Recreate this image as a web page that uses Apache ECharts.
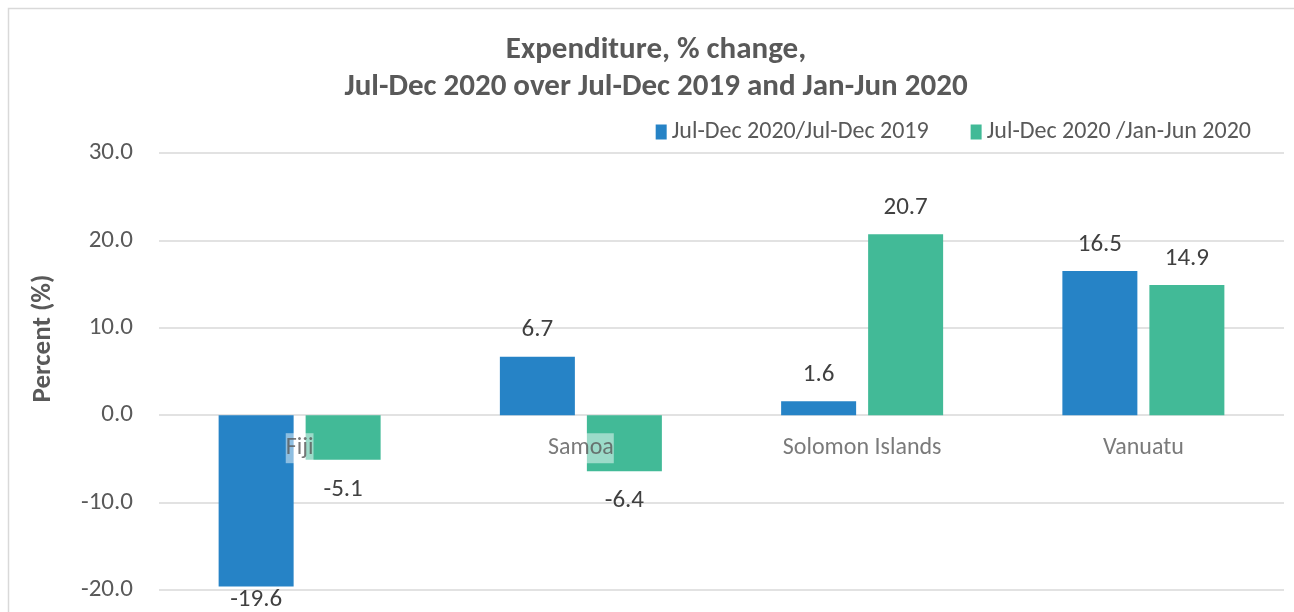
<!DOCTYPE html>
<html><head><meta charset="utf-8">
<script src="https://cdn.jsdelivr.net/npm/echarts@6/dist/echarts.min.js"></script>
<style>html,body{margin:0;padding:0;background:#fff;overflow:hidden}#c{width:1294px;height:612px}</style>
</head><body><div id="c"></div>
<script>
const categories = ['Fiji', 'Samoa', 'Solomon Islands', 'Vanuatu'];
const seriesNames = ['Jul-Dec 2020/Jul-Dec 2019', 'Jul-Dec 2020 /Jan-Jun 2020'];
const valuesYoY = [-19.6, 6.7, 1.6, 16.5];
const valuesHoH = [-5.1, -6.4, 20.7, 14.9];
const titleLines = ['Expenditure, % change,', 'Jul-Dec 2020 over Jul-Dec 2019 and Jan-Jun 2020'];
const yAxisName = 'Percent (%)';

const FONT = "Carlito, Lato, 'Open Sans', sans-serif";
const chart = echarts.init(document.getElementById('c'), null, {renderer: 'canvas'});
const lbl = {show: true, fontFamily: FONT, fontSize: 25, color: '#404040',
  formatter: p => p.value.toFixed(1)};
// labels below negative bars; pulled close to the bar when near the chart's bottom edge
const mk = vals => vals.map(v => ({value: v,
  label: {position: v < 0 ? 'bottom' : 'top', distance: v < -15 ? 1 : (v < 0 ? 17 : 14)}}));
chart.setOption({
  animation: false,
  textStyle: {fontFamily: FONT},
  graphic: [{type: 'rect', shape: {x: 8.5, y: 8.5, width: 1290, height: 610},
    style: {fill: null, stroke: '#d9d9d9', lineWidth: 1.5}, silent: true}],
  title: {text: titleLines.join('\n'), left: 651, top: 27, textAlign: 'center',
    textStyle: {fontFamily: FONT, fontSize: 31, fontWeight: 'bold', color: '#595959', lineHeight: 37}},
  legend: {right: 38, top: 115, itemWidth: 11, itemHeight: 15, itemGap: 42,
    icon: 'rect', textStyle: {fontFamily: FONT, fontSize: 24, color: '#595959'},
    data: seriesNames},
  grid: {left: 159, right: 10, top: 153, bottom: 22, containLabel: false, outerBoundsMode: 'none'},
  xAxis: {type: 'category', data: categories,
    axisLine: {show: false}, axisTick: {show: false}, axisLabel: {show: false}},
  yAxis: {type: 'value', min: -20, max: 30, interval: 10,
    name: yAxisName, nameLocation: 'middle', nameGap: 102,
    nameTextStyle: {fontFamily: FONT, fontSize: 27, fontWeight: 'bold', color: '#595959',
      padding: [0, 0, 0, 66]},
    axisLabel: {fontFamily: FONT, fontSize: 25, color: '#595959', margin: 26,
      formatter: v => v.toFixed(1)},
    splitLine: {lineStyle: {color: '#d9d9d9', width: 1.5}},
    axisLine: {show: false}, axisTick: {show: false}},
  series: [
    {name: seriesNames[0], type: 'bar', data: mk(valuesYoY), barWidth: 75, barGap: '16%',
      itemStyle: {color: '#2683C6'}, label: lbl, z: 2},
    {name: seriesNames[1], type: 'bar', data: mk(valuesHoH), barWidth: 75, barGap: '16%',
      itemStyle: {color: '#42BA97'}, label: lbl, z: 2},
    {name: 'categoryLabels', type: 'scatter', data: categories.map(() => 0),
      symbolSize: 0, z: 10, silent: true,
      label: {show: true, position: 'bottom', distance: 18, formatter: p => p.name,
        fontFamily: FONT, fontSize: 24, color: '#595959',
        backgroundColor: 'rgba(255,255,255,0.6)', padding: [3, 0, 3, 0]}}
  ]
});
</script></body></html>
